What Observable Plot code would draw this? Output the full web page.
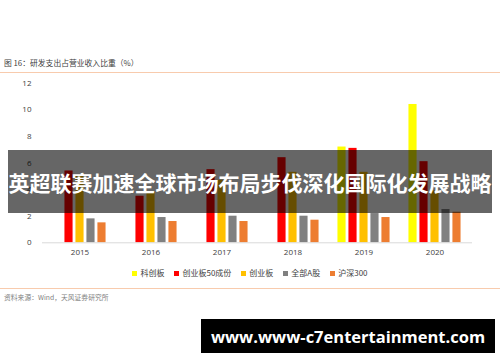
<!DOCTYPE html>
<html>
<head>
<meta charset="utf-8">
<script src="https://cdn.jsdelivr.net/npm/d3@7"></script>
<script src="https://cdn.jsdelivr.net/npm/@observablehq/plot@0.6"></script>
<style>
  html, body { margin: 0; padding: 0; background: #fff; }
  #wrap { position: relative; width: 500px; height: 362px; overflow: hidden; background: #fff;
          font-family: "Noto Sans CJK SC", "Noto Sans", sans-serif; }
  #title { position: absolute; left: 4px; top: 58px; font-size: 7.8px; color: #404040; white-space: nowrap; line-height: 10px; }
  .oline { position: absolute; left: 0; width: 500px; height: 1px; background: #F8CBAD; }
  #chart { position: absolute; left: 0; top: 72px; }
  #legend { position: absolute; left: 0; top: 268px; width: 500px; display: flex; justify-content: center;
            font-size: 8px; color: #404040; line-height: 10px; }
  .item { display: flex; align-items: center; margin: 0 5px; }
  .sw { width: 5px; height: 5px; margin-right: 3px; }
  #source { position: absolute; left: 4px; top: 292px; font-size: 6.8px; color: #7f7f7f; white-space: nowrap; line-height: 10px; }
  #banner { position: absolute; left: 8px; top: 150px; width: 484px; height: 63px; background: rgba(0,0,0,0.6);
            color: #fff; font-weight: bold; font-size: 21px; display: flex; align-items: center; justify-content: center;
            white-space: nowrap; letter-spacing: 0; }
  #site { position: absolute; left: 201px; top: 319px; width: 294px; height: 34px; background: #000; color: #fff;
          font-family: "Open Sans", sans-serif; font-weight: bold; font-size: 16.5px; display: flex; align-items: center;
          justify-content: center; white-space: nowrap; }
</style>
</head>
<body>
<div id="wrap">
  <div id="title"></div>
  <div class="oline" style="top:72px"></div>
  <div id="chart"></div>
  <div id="legend"></div>
  <div class="oline" style="top:288px"></div>
  <div id="source"></div>
  <div id="banner"></div>
  <div id="site"></div>
</div>
<script>
// ---- data ----
const titleText = "图 16：研发支出占营业收入比重（%）";
const sourceText = "资料来源：Wind，天风证券研究所";
const bannerText = "英超联赛加速全球市场布局步伐深化国际化发展战略";
const siteText = "www.www-c7entertainment.com";
const years = ["2015", "2016", "2017", "2018", "2019", "2020"];
const seriesNames = ["科创板", "创业板50成份", "创业板", "全部A股", "沪深300"];
const seriesColors = ["#FFFF00", "#FF0000", "#FFC000", "#808080", "#ED7D31"];
const kechuangban = [null, null, null, null, 7.2, 10.4];
const chuangye50 = [5.4, 3.5, 5.5, 6.4, 7.1, 6.1];
const chuangyeban = [5.1, 3.8, 4.7, 5.3, 5.3, 3.9];
const allAShares = [1.8, 1.9, 2.0, 2.0, 2.2, 2.5];
const hs300 = [1.5, 1.6, 1.6, 1.7, 1.9, 2.3];
const yTicks = [0, 2, 4, 6, 8, 10, 12];

const seriesValues = [kechuangban, chuangye50, chuangyeban, allAShares, hs300];

document.getElementById("title").textContent = titleText;
document.getElementById("source").textContent = sourceText;
document.getElementById("banner").textContent = bannerText;
document.getElementById("site").textContent = siteText;

// ---- chart ----
const W = 500, H = 190, ml = 42, mr = 28, mt = 10.7, mb = 19.7;
const step = (W - ml - mr) / years.length;
const groupW = step * 0.767;
const slot = groupW / seriesNames.length;
const barW = slot * 0.8;
const off0 = (step - groupW) / 2 + slot * 0.1;

const barMarks = seriesValues.map((vals, i) => {
  const rows = years.map((yr, j) => ({year: yr, value: vals[j], series: seriesNames[i]}));
  const left = off0 + slot * i;
  return Plot.barY(rows, {
    x: "year", y: "value", fill: seriesColors[i],
    insetLeft: left, insetRight: step - left - barW
  });
});

const chart = Plot.plot({
  width: W, height: H,
  marginTop: mt, marginBottom: mb, marginLeft: ml, marginRight: mr,
  style: {fontSize: "8px", fontFamily: "\"Open Sans\", \"Noto Sans\", sans-serif", color: "#404040", background: "transparent"},
  x: {domain: years, padding: 0, tickSize: 0, tickPadding: 7, label: null},
  y: {domain: [0, 12], ticks: yTicks, tickSize: 0, tickPadding: 11, label: null},
  marks: [
    ...barMarks,
    Plot.ruleY([0], {stroke: "#D9D9D9"})
  ]
});
document.getElementById("chart").appendChild(chart);

// ---- legend ----
const legend = document.getElementById("legend");
seriesNames.forEach((name, i) => {
  const it = document.createElement("div");
  it.className = "item";
  const sw = document.createElement("span");
  sw.className = "sw";
  sw.style.background = seriesColors[i];
  const tx = document.createElement("span");
  tx.textContent = name;
  it.appendChild(sw); it.appendChild(tx);
  legend.appendChild(it);
});
</script>
</body>
</html>
